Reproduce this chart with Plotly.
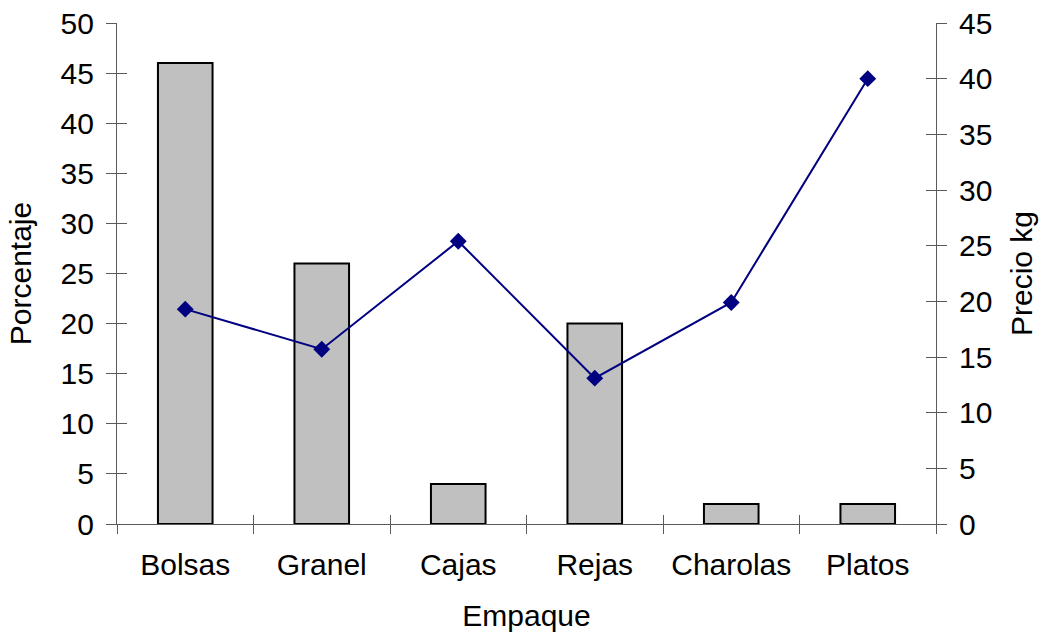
import plotly.graph_objects as go

categorias = ["Bolsas", "Granel", "Cajas", "Rejas", "Charolas", "Platos"]
porcentaje = [46, 26, 4, 20, 2, 2]
precio_kg = [19.3, 15.7, 25.4, 13.1, 19.9, 40.0]

FONT = "Liberation Sans, Arial, sans-serif"
AXIS_COLOR = "#5a5a5a"
FS = 30

fig = go.Figure()

fig.add_trace(go.Bar(
    x=categorias, y=porcentaje, yaxis="y",
    marker=dict(color="#c0c0c0", line=dict(color="black", width=2)),
    name="Porcentaje",
))

fig.add_trace(go.Scatter(
    x=categorias, y=precio_kg, yaxis="y2", mode="lines+markers",
    line=dict(color="#000080", width=2),
    marker=dict(symbol="diamond", size=13, color="#000080"),
    name="Precio kg",
))

tick_font = dict(family=FONT, size=FS, color="black")
title_font = dict(family=FONT, size=FS, color="black")
n = len(categorias)
bounds = [i - 0.5 for i in range(n + 1)]

fig.update_layout(
    width=1042, height=634,
    margin=dict(l=117, r=106, t=23, b=110, autoexpand=False),
    paper_bgcolor="white", plot_bgcolor="white",
    showlegend=False, bargap=0.6,
    font=dict(family=FONT, color="black"),
    xaxis=dict(
        type="category", categoryorder="array", categoryarray=categorias,
        range=[-0.5, n - 0.5], automargin=False,
        tickson="boundaries", ticks="outside", ticklen=9, tickwidth=1.2, tickcolor=AXIS_COLOR,
        showline=True, linecolor=AXIS_COLOR, linewidth=1.2,
        showgrid=False, zeroline=False,
        tickfont=tick_font, ticklabelstandoff=14,
        title=dict(text="Empaque", font=title_font, standoff=24),
    ),
    # overlay axis only to draw the inner half of the bottom tick marks
    xaxis2=dict(
        overlaying="x", anchor="y", range=[-0.5, n - 0.5], automargin=False,
        tickmode="array", tickvals=bounds, showticklabels=False,
        ticks="inside", ticklen=9, tickwidth=1.2, tickcolor=AXIS_COLOR,
        showline=False, showgrid=False, zeroline=False,
    ),
    yaxis=dict(
        range=[0, 50], dtick=5, tick0=0, automargin=False,
        ticks="outside", ticklen=10, tickwidth=1.2, tickcolor=AXIS_COLOR,
        showline=True, linecolor=AXIS_COLOR, linewidth=1.2,
        showgrid=False, zeroline=False,
        tickfont=tick_font, ticklabelstandoff=6,
        title=dict(text="Porcentaje", font=title_font, standoff=20),
    ),
    yaxis2=dict(
        overlaying="y", side="right", range=[0, 45], dtick=5, tick0=0, automargin=False,
        ticks="outside", ticklen=10, tickwidth=1.2, tickcolor=AXIS_COLOR,
        showline=True, linecolor=AXIS_COLOR, linewidth=1.2,
        showgrid=False, zeroline=False,
        tickfont=tick_font, ticklabelstandoff=6,
        title=dict(text="Precio kg", font=title_font, standoff=19),
    ),
    # overlay axes only to draw the inner half of the vertical tick marks
    yaxis3=dict(
        overlaying="y", side="left", range=[0, 50], dtick=5, tick0=0, automargin=False,
        ticks="inside", ticklen=10, tickwidth=1.2, tickcolor=AXIS_COLOR,
        showticklabels=False, showline=False, showgrid=False, zeroline=False,
    ),
    yaxis4=dict(
        overlaying="y", side="right", range=[0, 45], dtick=5, tick0=0, automargin=False,
        ticks="inside", ticklen=10, tickwidth=1.2, tickcolor=AXIS_COLOR,
        showticklabels=False, showline=False, showgrid=False, zeroline=False,
    ),
)

# invisible carriers so the overlay axes are rendered
fig.add_trace(go.Scatter(x=[0], y=[0], xaxis="x2", yaxis="y3", mode="markers",
                         marker=dict(opacity=0), hoverinfo="skip"))
fig.add_trace(go.Scatter(x=[0], y=[0], xaxis="x2", yaxis="y4", mode="markers",
                         marker=dict(opacity=0), hoverinfo="skip"))

fig.write_html("out.html")
